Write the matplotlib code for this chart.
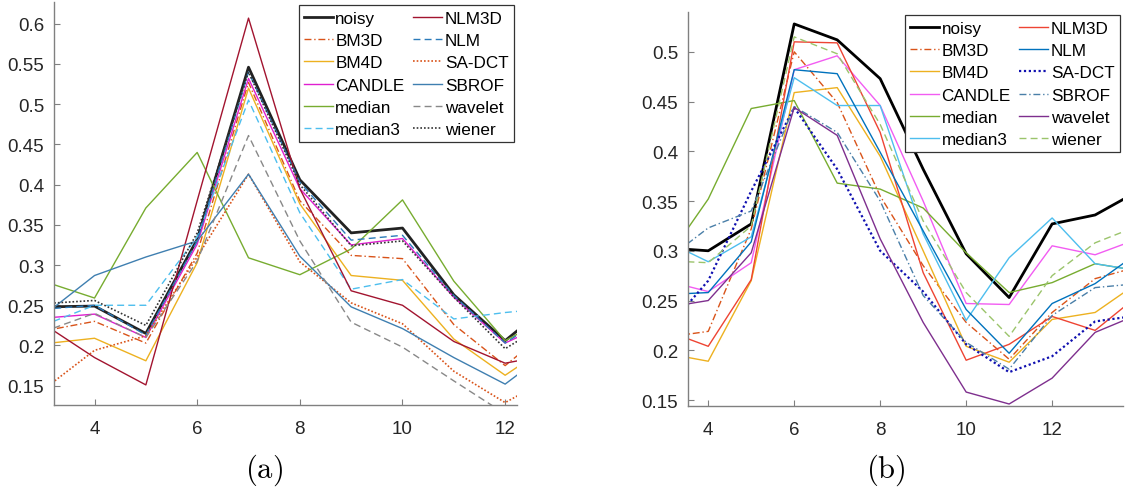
import numpy as np
import matplotlib
matplotlib.use('Agg')
import matplotlib.pyplot as plt
from matplotlib.ticker import FuncFormatter

plt.rcParams['font.family'] = ['Liberation Sans', 'DejaVu Sans']
plt.rcParams['mathtext.fontset'] = 'cm'

names = ['noisy', 'BM3D', 'BM4D', 'CANDLE', 'median', 'median3',
         'NLM3D', 'NLM', 'SA-DCT', 'SBROF', 'wavelet', 'wiener']

# panel (a)
x_a = [3, 4, 5, 6, 7, 8, 9, 10, 11, 12, 13]
noisy_a = [0.248, 0.249, 0.215, 0.332, 0.546, 0.406, 0.340, 0.346, 0.263, 0.206, 0.258]
bm3d_a = [0.218, 0.230, 0.203, 0.315, 0.527, 0.380, 0.312, 0.308, 0.226, 0.175, 0.227]
bm4d_a = [0.202, 0.209, 0.181, 0.303, 0.520, 0.376, 0.287, 0.281, 0.208, 0.163, 0.206]
candle_a = [0.234, 0.239, 0.210, 0.326, 0.532, 0.395, 0.325, 0.333, 0.260, 0.203, 0.233]
median_a = [0.280, 0.259, 0.371, 0.440, 0.309, 0.288, 0.320, 0.381, 0.280, 0.206, 0.240]
median3_a = [0.225, 0.250, 0.250, 0.335, 0.505, 0.365, 0.270, 0.282, 0.233, 0.241, 0.247]
nlm3d_a = [0.227, 0.185, 0.151, 0.380, 0.607, 0.395, 0.268, 0.250, 0.205, 0.178, 0.190]
nlm_a = [0.245, 0.250, 0.213, 0.330, 0.540, 0.403, 0.331, 0.337, 0.262, 0.203, 0.245]
sadct_a = [0.145, 0.194, 0.212, 0.310, 0.413, 0.304, 0.253, 0.227, 0.168, 0.129, 0.164]
sbrof_a = [0.237, 0.287, 0.310, 0.330, 0.413, 0.311, 0.248, 0.221, 0.185, 0.152, 0.200]
wavelet_a = [0.217, 0.240, 0.210, 0.305, 0.461, 0.330, 0.229, 0.198, 0.156, 0.115, 0.130]
wiener_a = [0.252, 0.256, 0.225, 0.340, 0.540, 0.400, 0.324, 0.330, 0.260, 0.196, 0.235]

# panel (b)
x_b = [3, 4, 5, 6, 7, 8, 9, 10, 11, 12, 13, 14]
noisy_b = [0.303, 0.300, 0.327, 0.528, 0.512, 0.473, 0.382, 0.297, 0.253, 0.327, 0.336, 0.360]
bm3d_b = [0.213, 0.219, 0.322, 0.500, 0.449, 0.355, 0.285, 0.228, 0.191, 0.238, 0.272, 0.284]
bm4d_b = [0.197, 0.189, 0.270, 0.459, 0.464, 0.395, 0.300, 0.204, 0.188, 0.231, 0.238, 0.268]
candle_b = [0.270, 0.259, 0.288, 0.482, 0.496, 0.446, 0.350, 0.247, 0.246, 0.305, 0.296, 0.312]
median_b = [0.290, 0.352, 0.443, 0.451, 0.368, 0.362, 0.343, 0.298, 0.258, 0.268, 0.287, 0.280]
median3_b = [0.310, 0.289, 0.314, 0.474, 0.446, 0.446, 0.317, 0.230, 0.293, 0.333, 0.287, 0.280]
nlm3d_b = [0.220, 0.204, 0.271, 0.510, 0.509, 0.419, 0.278, 0.190, 0.206, 0.234, 0.220, 0.255]
nlm_b = [0.256, 0.258, 0.309, 0.482, 0.478, 0.399, 0.320, 0.241, 0.197, 0.247, 0.267, 0.298]
sadct_b = [0.220, 0.270, 0.360, 0.444, 0.382, 0.300, 0.259, 0.206, 0.178, 0.194, 0.229, 0.235]
sbrof_b = [0.290, 0.323, 0.340, 0.445, 0.419, 0.350, 0.255, 0.208, 0.181, 0.235, 0.263, 0.267]
wavelet_b = [0.243, 0.250, 0.298, 0.444, 0.416, 0.312, 0.228, 0.158, 0.146, 0.172, 0.218, 0.236]
wiener_b = [0.290, 0.288, 0.325, 0.515, 0.498, 0.427, 0.330, 0.258, 0.214, 0.275, 0.308, 0.325]

series_a = [noisy_a, bm3d_a, bm4d_a, candle_a, median_a, median3_a,
            nlm3d_a, nlm_a, sadct_a, sbrof_a, wavelet_a, wiener_a]
series_b = [noisy_b, bm3d_b, bm4d_b, candle_b, median_b, median3_b,
            nlm3d_b, nlm_b, sadct_b, sbrof_b, wavelet_b, wiener_b]

DASH = (0, (5, 3))
DASHDOT = (0, (5, 2, 1, 2))
DOT = (0, (1, 1.2))

# (color, linestyle, linewidth)
style_a = [('#222222', '-', 2.0), ('#D95319', DASHDOT, 1.0), ('#EDB120', '-', 1.0),
           ('#E01FD0', '-', 1.0), ('#77AC30', '-', 1.0), ('#4DBEEE', DASH, 1.0),
           ('#A2142F', '-', 1.0), ('#2B7BBA', DASH, 1.0), ('#D95319', DOT, 1.2),
           ('#3F7FB0', '-', 1.0), ('#888888', DASH, 1.0), ('#333333', DOT, 1.2)]
style_b = [('#000000', '-', 2.0), ('#D95319', DASHDOT, 1.0), ('#EDB120', '-', 1.0),
           ('#F25CF2', '-', 1.0), ('#77AC30', '-', 1.0), ('#4DBEEE', '-', 1.0),
           ('#EE4433', '-', 1.0), ('#0072BD', '-', 1.0), ('#1010B0', DOT, 1.6),
           ('#4A7FA8', DASHDOT, 1.0), ('#7E2F8E', '-', 1.0), ('#9BC46B', DASH, 1.0)]

fig = plt.figure(figsize=(11.27, 4.89), dpi=100)
ax1 = fig.add_axes([0.0479, 0.1697, 0.4108, 0.8241])
ax2 = fig.add_axes([0.6105, 0.1677, 0.3860, 0.8057])


def draw(ax, x, series, styles, xlim, ylim, yticks):
    for y, name, (c, ls, lw) in zip(series, names, styles):
        ax.plot(x, y, color=c, linestyle=ls, linewidth=lw, label=name)
    ax.set_xlim(*xlim)
    ax.set_ylim(*ylim)
    ax.set_xticks([4, 6, 8, 10, 12])
    ax.set_yticks(yticks)
    ax.yaxis.set_major_formatter(FuncFormatter(lambda v, p: '%g' % round(v, 2)))
    for s in ['top', 'right']:
        ax.spines[s].set_visible(False)
    for s in ['left', 'bottom']:
        ax.spines[s].set_color('#808080')
        ax.spines[s].set_linewidth(1.0)
    ax.tick_params(direction='in', length=4, width=0.8, color='#808080',
                   labelsize=13.5, labelcolor='#262626')
    ax.tick_params(axis='x', pad=11)
    ax.tick_params(axis='y', pad=7)
    leg = ax.legend(ncol=2, loc='upper right', fontsize=12.3, handlelength=1.7,
                    handletextpad=0.15, columnspacing=0.5, labelspacing=0.43,
                    borderaxespad=0.2, borderpad=0.3, fancybox=False,
                    framealpha=1, edgecolor='#333333')
    leg.get_frame().set_linewidth(0.9)


draw(ax1, x_a, series_a, style_a, (3.21, 12.23), (0.126, 0.627),
     np.arange(0.15, 0.601, 0.05))
draw(ax2, x_b, series_b, style_b, (3.53, 13.65), (0.144, 0.54),
     np.arange(0.15, 0.501, 0.05))

fig.text(264 / 1127, 1 - 470 / 489, r'$\mathrm{(a)}$', ha='center', va='center', fontsize=22)
fig.text(886 / 1127, 1 - 470 / 489, r'$\mathrm{(b)}$', ha='center', va='center', fontsize=22)

fig.savefig('out.png', dpi=100)
